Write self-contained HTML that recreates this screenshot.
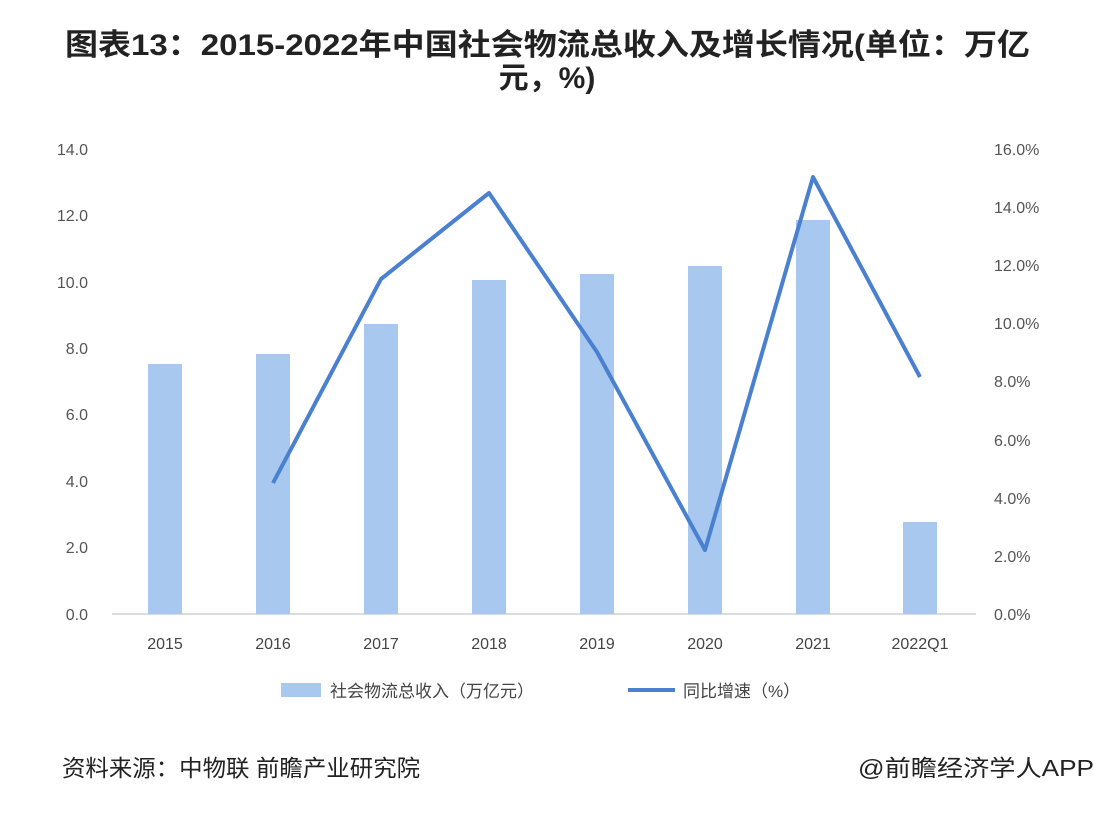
<!DOCTYPE html>
<html><head><meta charset="utf-8"><style>
body{margin:0;background:#fff;width:1094px;height:808px;overflow:hidden;font-family:"Liberation Sans","Noto Sans CJK SC",sans-serif;}
</style></head><body>
<svg width="1094" height="808" xmlns="http://www.w3.org/2000/svg" font-family="Liberation Sans, Noto Sans CJK SC, sans-serif">
<text x="65" y="55" font-size="30" font-weight="bold" fill="#222" textLength="965" lengthAdjust="spacingAndGlyphs">图表13：2015-2022年中国社会物流总收入及增长情况(单位：万亿</text>
<text x="547" y="88" text-anchor="middle" font-size="30" font-weight="bold" fill="#222">元，%)</text>
<g font-size="16" fill="#555">
<text x="88" y="155" text-anchor="end">14.0</text>
<text x="88" y="221" text-anchor="end">12.0</text>
<text x="88" y="288" text-anchor="end">10.0</text>
<text x="88" y="354" text-anchor="end">8.0</text>
<text x="88" y="420" text-anchor="end">6.0</text>
<text x="88" y="487" text-anchor="end">4.0</text>
<text x="88" y="553" text-anchor="end">2.0</text>
<text x="88" y="620" text-anchor="end">0.0</text>
<text x="994" y="155">16.0%</text>
<text x="994" y="213">14.0%</text>
<text x="994" y="271">12.0%</text>
<text x="994" y="329">10.0%</text>
<text x="994" y="387">8.0%</text>
<text x="994" y="446">6.0%</text>
<text x="994" y="504">4.0%</text>
<text x="994" y="562">2.0%</text>
<text x="994" y="620">0.0%</text>
</g>
<line x1="112" y1="614" x2="976" y2="614" stroke="#d0d0d0" stroke-width="1.5"/>
<g fill="#a9c8f0">
<rect x="148" y="364" width="34" height="250"/>
<rect x="256" y="354" width="34" height="260"/>
<rect x="364" y="324" width="34" height="290"/>
<rect x="472" y="280" width="34" height="334"/>
<rect x="580" y="274" width="34" height="340"/>
<rect x="688" y="266" width="34" height="348"/>
<rect x="796" y="220" width="34" height="394"/>
<rect x="903" y="522" width="34" height="92"/>
</g>
<polyline points="273,483 381,279 489,193 597,352 705,550 813,177 920,377" fill="none" stroke="#4a80d0" stroke-width="4" stroke-linejoin="round"/>
<g font-size="16" fill="#444" text-anchor="middle">
<text x="165" y="649">2015</text><text x="273" y="649">2016</text><text x="381" y="649">2017</text><text x="489" y="649">2018</text>
<text x="597" y="649">2019</text><text x="705" y="649">2020</text><text x="813" y="649">2021</text><text x="920" y="649">2022Q1</text>
</g>
<rect x="281" y="683" width="40" height="14" fill="#a9c8f0"/>
<text x="330" y="697" font-size="17" fill="#444">社会物流总收入（万亿元）</text>
<line x1="628" y1="690" x2="675" y2="690" stroke="#4a80d0" stroke-width="4"/>
<text x="683" y="697" font-size="17" fill="#444">同比增速（%）</text>
<text x="62" y="776" font-size="23" fill="#222" textLength="358" lengthAdjust="spacingAndGlyphs">资料来源：中物联 前瞻产业研究院</text>
<text x="858" y="776" font-size="23" fill="#222" textLength="236" lengthAdjust="spacingAndGlyphs">@前瞻经济学人APP</text>
</svg>
</body></html>
